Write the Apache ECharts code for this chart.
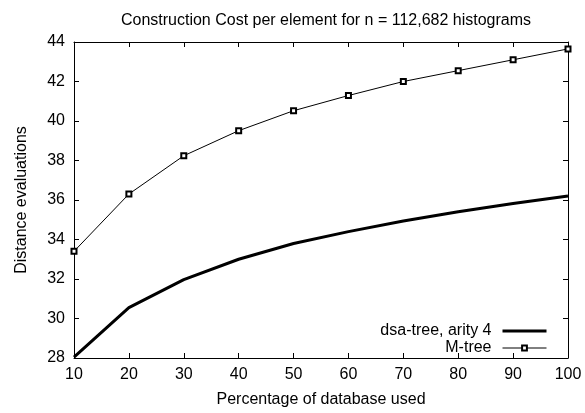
<!DOCTYPE html>
<html>
<head>
<meta charset="utf-8">
<script src="https://cdn.jsdelivr.net/npm/echarts@6/dist/echarts.min.js"></script>
<style>html,body{margin:0;padding:0;background:#fff}#c{width:585px;height:413px}</style>
</head>
<body>
<div id="c"></div>
<script>
var percentages = [10, 20, 30, 40, 50, 60, 70, 80, 90, 100];
var dsaTree = [28.05, 30.55, 31.97, 33.0, 33.8, 34.4, 34.94, 35.41, 35.82, 36.2];
var mTree = [33.4, 36.3, 38.24, 39.51, 40.52, 41.29, 42.0, 42.55, 43.1, 43.65];
var titleText = 'Construction Cost per element for n = 112,682 histograms';
var xName = 'Percentage of database used';
var yName = 'Distance evaluations';
var seriesNames = ['dsa-tree, arity 4', 'M-tree'];

function pairs(xs, ys) { return xs.map(function (x, i) { return [x, ys[i]]; }); }

var FONT = 'Liberation Sans, Arial, sans-serif';
var chart = echarts.init(document.getElementById('c'));
var axisLine = { show: true, lineStyle: { color: '#000', width: 1 } };
var tick = { show: true, inside: true, length: 5, lineStyle: { color: '#000' } };
chart.setOption({
  animation: false,
  backgroundColor: '#fff',
  title: { text: titleText, left: 321, textAlign: 'center', top: 8,
    textStyle: { fontFamily: FONT, fontSize: 16, fontWeight: 'normal', color: '#000' } },
  grid: { left: 74, right: 17, top: 42, bottom: 54 },
  legend: {
    orient: 'vertical', right: 37, top: 323, align: 'right', padding: 0,
    itemWidth: 44, itemHeight: 6, itemGap: 1,
    textStyle: { fontFamily: FONT, fontSize: 16, color: '#000', padding: [0, 6, 0, 0] },
    data: [
      { name: seriesNames[0], itemStyle: { opacity: 0 }, lineStyle: { color: '#000', width: 3 } },
      { name: seriesNames[1], lineStyle: { color: '#000', width: 1 },
        itemStyle: { color: '#000', borderColor: '#000', borderWidth: 1 } }
    ]
  },
  xAxis: [{
    type: 'value', min: 10, max: 100, interval: 10, position: 'bottom',
    name: xName, nameLocation: 'middle', nameGap: 34,
    nameTextStyle: { fontFamily: FONT, fontSize: 16, color: '#000' },
    axisLine: axisLine, axisTick: tick, splitLine: { show: false },
    axisLabel: { fontFamily: FONT, fontSize: 16, color: '#000', margin: 9 }
  }, {
    type: 'value', min: 10, max: 100, interval: 10, position: 'top',
    axisLine: axisLine, axisTick: tick, splitLine: { show: false },
    axisLabel: { show: false }
  }],
  yAxis: [{
    type: 'value', min: 28, max: 44, interval: 2, position: 'left',
    name: yName, nameLocation: 'middle', nameGap: 44,
    nameTextStyle: { fontFamily: FONT, fontSize: 16, color: '#000' },
    axisLine: axisLine, axisTick: tick, splitLine: { show: false },
    axisLabel: { fontFamily: FONT, fontSize: 16, color: '#000', margin: 9 }
  }, {
    type: 'value', min: 28, max: 44, interval: 2, position: 'right',
    axisLine: axisLine, axisTick: tick, splitLine: { show: false },
    axisLabel: { show: false }
  }],
  series: [{
    name: seriesNames[0], type: 'line', data: pairs(percentages, dsaTree),
    showSymbol: false, symbol: 'none',
    lineStyle: { color: '#000', width: 3 }, itemStyle: { color: '#000' }
  }, {
    name: seriesNames[1], type: 'line', data: pairs(percentages, mTree),
    symbol: 'emptyRect', symbolSize: 5,
    lineStyle: { color: '#000', width: 1 },
    itemStyle: { color: '#000', borderColor: '#000', borderWidth: 1 }
  }]
});
</script>
</body>
</html>
